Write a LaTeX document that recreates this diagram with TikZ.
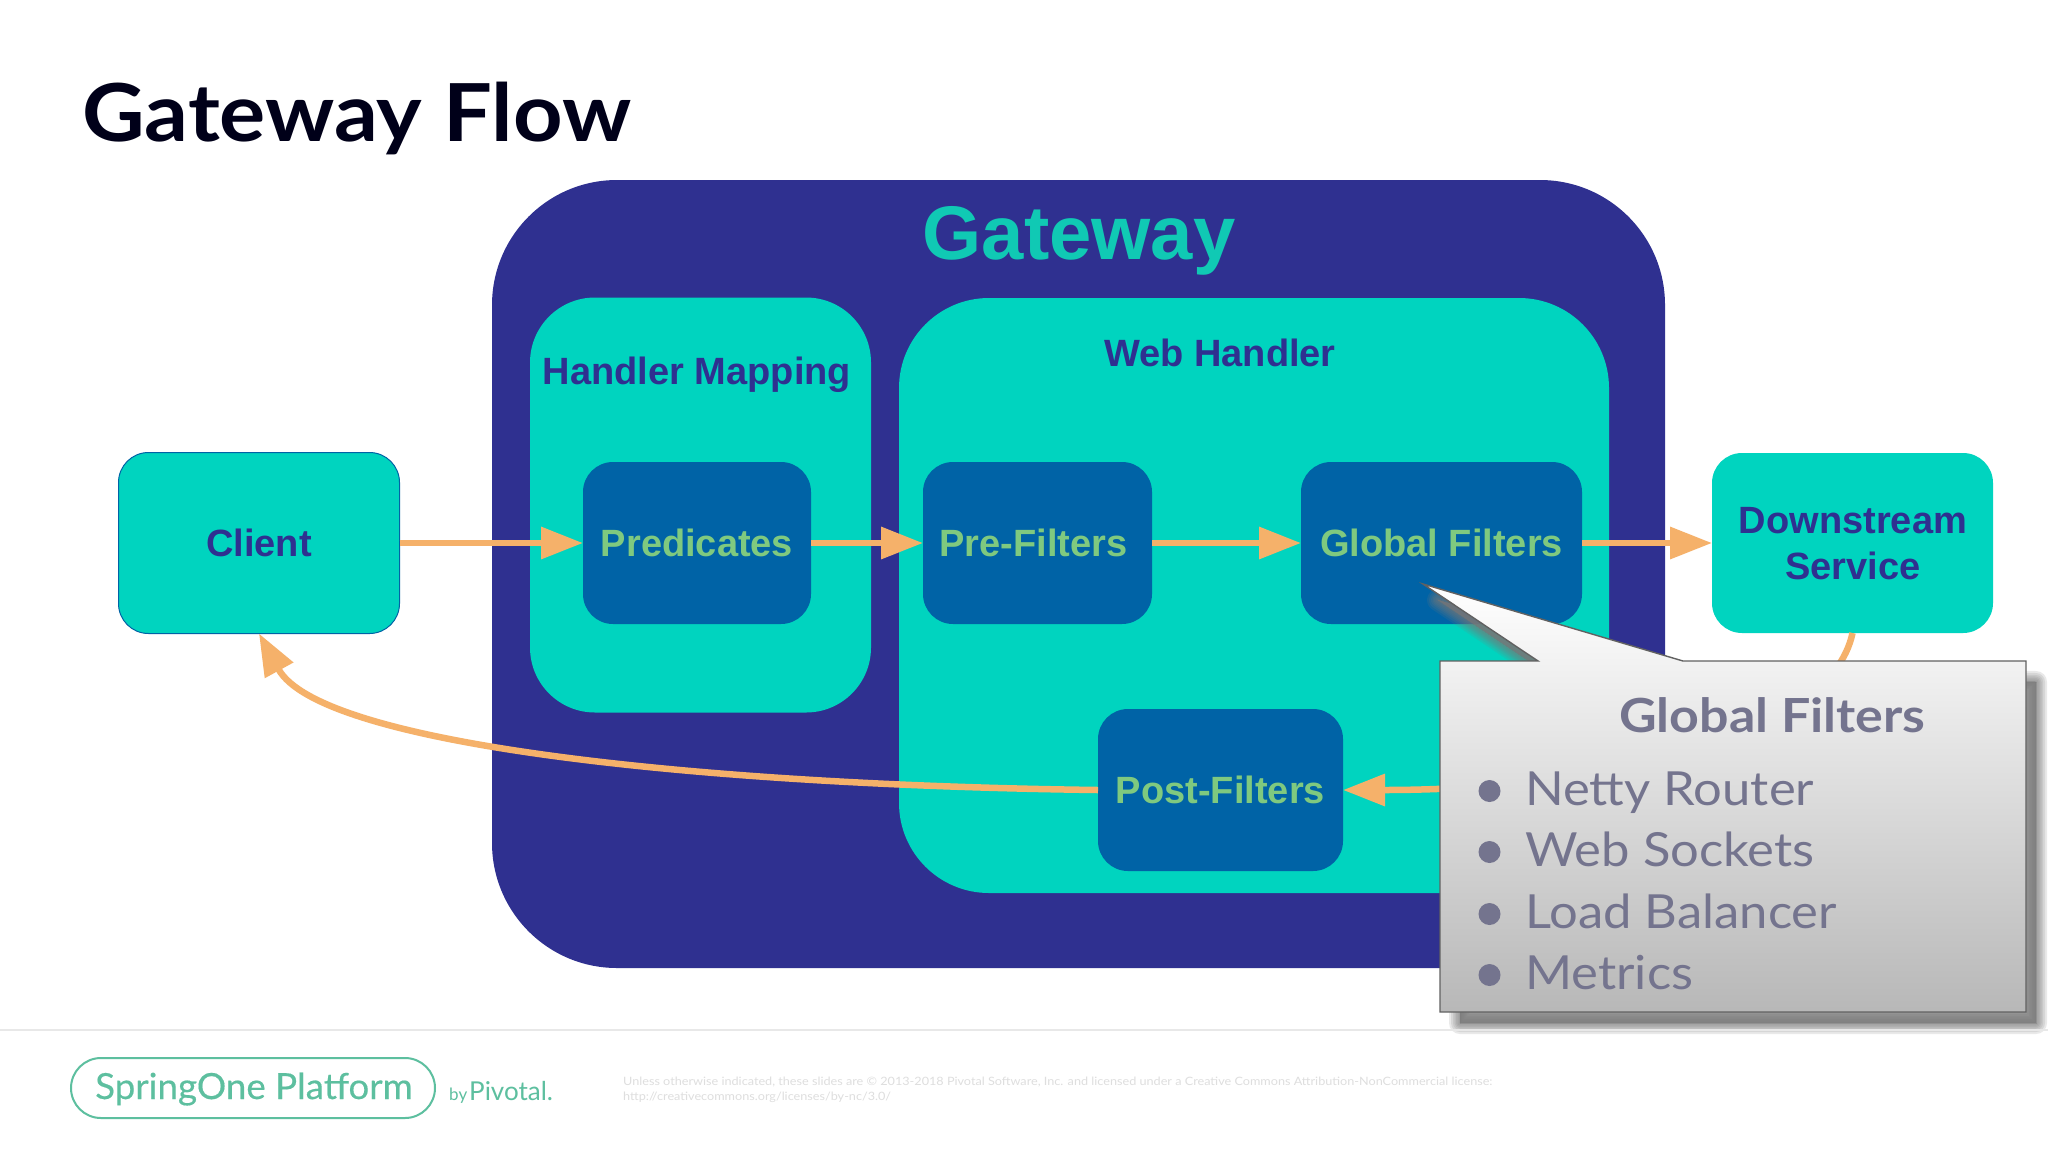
\documentclass[tikz,border=0pt]{standalone}
\usepackage{fontspec}
\setmainfont{Liberation Sans}
\newfontfamily\lato{Lato}[FakeStretch=1.08]
\newfontfamily\latob{Lato}[FakeStretch=1.08,UprightFont=*-Bold]
\newfontfamily\latoc{Lato}[FakeStretch=1.105,UprightFont=*-Bold]
\newfontfamily\latom{Lato}[FakeStretch=1.02,FakeBold=0.35]
\newfontfamily\latop{Lato}
\newfontfamily\latol{Lato}[FakeStretch=1.1]
\usetikzlibrary{arrows.meta}
\definecolor{teal1}{HTML}{00D4BF}
\definecolor{teal2}{HTML}{10C9B4}
\definecolor{navy1}{HTML}{2F3090}
\definecolor{blue1}{HTML}{0063A6}
\definecolor{grn1}{HTML}{7FC97F}
\definecolor{orng}{HTML}{F5B16A}
\definecolor{slate}{HTML}{74748E}
\definecolor{spring}{HTML}{5DBF9F}
\begin{document}
\begin{tikzpicture}[x=1pt,y=-1pt,
    box/.style={inner sep=0pt,outer sep=0pt,align=center,font=\bfseries\fontsize{38}{46}\selectfont},
    tealbox/.style={box,fill=teal1,text=navy1},
    bluebox/.style={box,fill=blue1,text=grn1,rounded corners=30pt,minimum height=162pt},
    flow/.style={orng,line width=6.5pt,-{Triangle[length=42pt,width=31pt]}},
    item/.style={anchor=base west,inner sep=0pt,text=slate,font=\lato\fontsize{47}{50}\selectfont},
    dot/.style={circle,fill=slate,minimum size=22pt,inner sep=0pt},
    legal/.style={anchor=base west,inner sep=0pt,text=black!13,font=\latol\fontsize{11.5}{12}\selectfont}]
\useasboundingbox (0,0) rectangle (2048,1152);
\fill[white] (0,0) rectangle (2048,1152);

\node[anchor=base west,inner sep=0pt,text=black!90!blue,font=\latob\fontsize{80}{84}\selectfont] (title) at (82,141) {Gateway Flow};

% containers
\node[box,fill=navy1,rounded corners=125pt,minimum width=1173pt,minimum height=788pt] (gw) at (1078.5,574) {};
\node[box,text=teal2,font=\bfseries\fontsize{76}{80}\selectfont,anchor=base] (gwt) at (1079,259) {Gateway};
\node[tealbox,rounded corners=65pt,minimum width=341pt,minimum height=415pt] (hm) at (700.5,505) {};
\node[box,text=navy1,anchor=base] (hmt) at (697,384) {Handler Mapping};
\node[tealbox,rounded corners=90pt,minimum width=710pt,minimum height=595pt] (wh) at (1254,595.5) {};
\node[box,text=navy1,anchor=base] (wht) at (1220,366) {Web Handler};

% outer boxes
\node[tealbox,draw=blue1,line width=1pt,rounded corners=30pt,minimum width=281pt,minimum height=181pt] (client) at (259,543) {Client};
\node[tealbox,rounded corners=30pt,minimum width=281pt,minimum height=180pt] (down) at (1852.5,543) {};
\node[box,text=navy1] (downt) at (1853,543.5) {Downstream\\Service};

% filters
\node[bluebox,minimum width=228pt] (pred) at (697,543) {Predicates};
\node[bluebox,minimum width=229pt] (pre) at (1037.5,543) {Pre-Filters\hspace*{8pt}};
\node[bluebox,minimum width=281pt] (glob) at (1441.5,543) {Global Filters};
\node[bluebox,minimum width=245pt] (post) at (1220.5,790) {Post-Filters};

% flow
\draw[flow] (client.east) -- (pred.west);
\draw[flow] (pred.east) -- (pre.west);
\draw[flow] (pre.east) -- (glob.west);
\draw[flow] (glob.east) -- (down.west);
\draw[flow] (down.south) .. controls (1830,740) and (1600,790) .. (post.east);
\draw[flow] (post.west) .. controls (700,785) and (320,745) .. (client.south);

% callout
\coordinate (tip) at (1423,584);
\foreach \w in {22,18,14,11,8,5,2,0}
  \filldraw[gray!95!black,opacity=.16,line width=\w pt,line join=round]
    (1438,600) -- (1698,677) -- (2036,682) -- (2036,1023) -- (1460,1023) -- (1460,677) -- (1553,677) -- cycle;
\shade[top color=white,bottom color=black!28] (tip) -- (1683,661) -- (2026,661) -- (2026,1012) -- (1440,1012) -- (1440,661) -- (1538,661) -- cycle;
\draw[black!62,line width=1.4pt,line join=miter] (tip) -- (1683,661) -- (2026,661) -- (2026,1012) -- (1440,1012) -- (1440,661) -- (1538,661) -- cycle;
\node[item,font=\latoc\fontsize{47}{50}\selectfont] (ct) at (1619,732) {Global Filters};
\node[dot] (d1) at (1489.5,791) {};
\node[dot] (d2) at (1489.5,852) {};
\node[dot] (d3) at (1489.5,914) {};
\node[dot] (d4) at (1489.5,975) {};
\node[item] (i1) at (1525,805) {Netty Router};
\node[item] (i2) at (1525,866) {Web Sockets};
\node[item] (i3) at (1525,928) {Load Balancer};
\node[item] (i4) at (1525,989) {Metrics};

% footer
\draw[black!9,line width=2pt] (0,1030) -- (2048,1030);
\node[draw=spring,line width=2pt,rounded corners=30pt,minimum width=364pt,minimum height=60pt,inner sep=0pt] (pill) at (253,1088) {};
\node[anchor=base west,inner sep=0pt,text=spring,font=\latom\fontsize{36}{40}\selectfont] (so) at (95,1099) {SpringOne Platform};
\node[anchor=base west,inner sep=0pt,text=spring,font=\latop\fontsize{17}{20}\selectfont] (by) at (449,1100) {by};
\node[anchor=base west,inner sep=0pt,text=spring,font=\latop\fontsize{26}{30}\selectfont] (piv) at (469,1100) {Pivotal.};
\node[legal] (l1) at (623,1085) {Unless otherwise indicated, these slides are © 2013-2018 Pivotal Software, Inc. and licensed under a Creative Commons Attribution-NonCommercial license:};
\node[legal] (l2) at (623,1100) {http://creativecommons.org/licenses/by-nc/3.0/};
\end{tikzpicture}
\end{document}
